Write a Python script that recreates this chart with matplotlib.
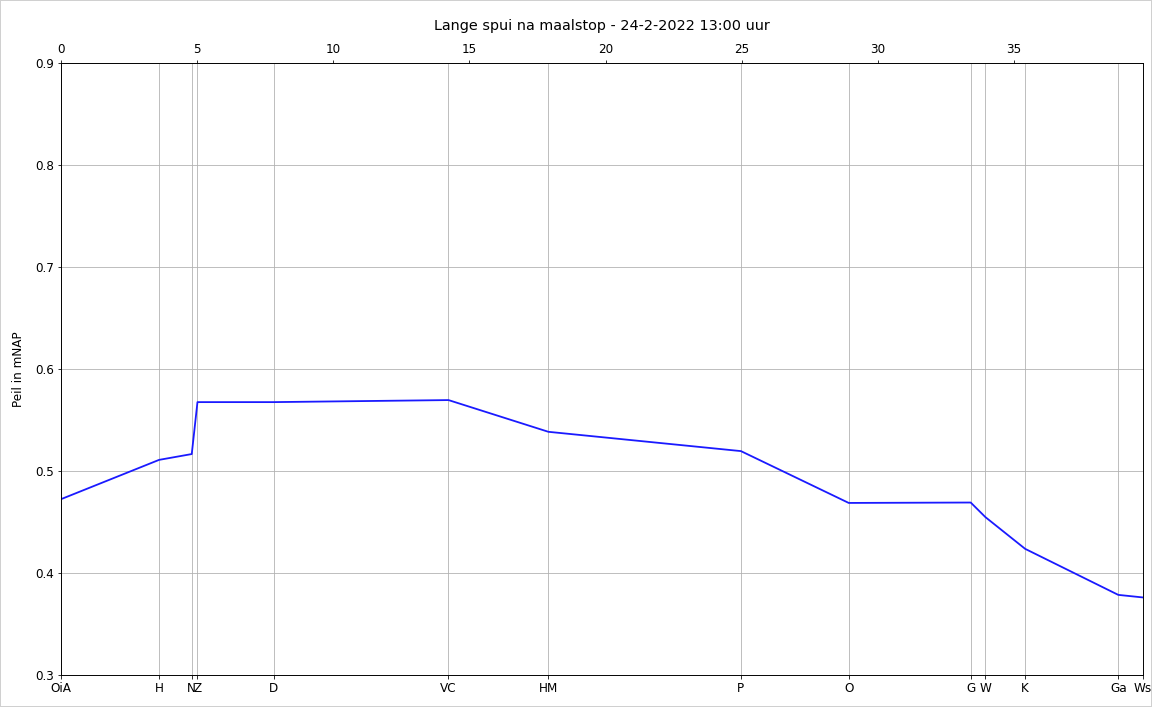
"""Peil langs de Lange spui na maalstop."""

import matplotlib
matplotlib.use("Agg")
import matplotlib.pyplot as plt

stations = ["OiA", "H", "N", "Z", "D", "VC", "HM", "P", "O", "G", "W", "K", "Ga", "Ws"]
afstand_km = [0.0, 3.60, 4.80, 5.01, 7.82, 14.23, 17.90, 24.97, 28.93,
              33.41, 33.95, 35.41, 38.83, 39.73]
peil = [0.4725, 0.511, 0.5167, 0.5676, 0.5676, 0.5696, 0.5385, 0.5196, 0.4688,
        0.4692, 0.4549, 0.4238, 0.3787, 0.3762]
top_ticks = [0, 5, 10, 15, 20, 25, 30, 35]
y_ticks = [0.3, 0.4, 0.5, 0.6, 0.7, 0.8, 0.9]

plt.rcParams["font.size"] = 12

fig = plt.figure(figsize=(16, 707 / 72), dpi=72)
fig.patch.set_edgecolor("#d0d0d0")
fig.patch.set_linewidth(2)
ax = fig.add_axes([0.053, 0.045, 0.939, 0.866])

ax.plot(afstand_km, peil, color="#1a1aff", linewidth=1.8)

ax.set_xlim(0, afstand_km[-1])
ax.set_ylim(0.3, 0.9)
ax.set_yticks(y_ticks)
ax.set_xticks(afstand_km)
ax.set_xticklabels(stations)
ax.set_ylabel("Peil in mNAP", labelpad=10)
ax.grid(True, color="#b0b0b0", linewidth=0.8)

top = ax.twiny()
top.set_xlim(ax.get_xlim())
top.set_xticks(top_ticks)

ax.set_title("Lange spui na maalstop - 24-2-2022 13:00 uur", fontsize=14.4, pad=33)

fig.savefig("out.png", dpi=72, edgecolor=fig.get_edgecolor())
